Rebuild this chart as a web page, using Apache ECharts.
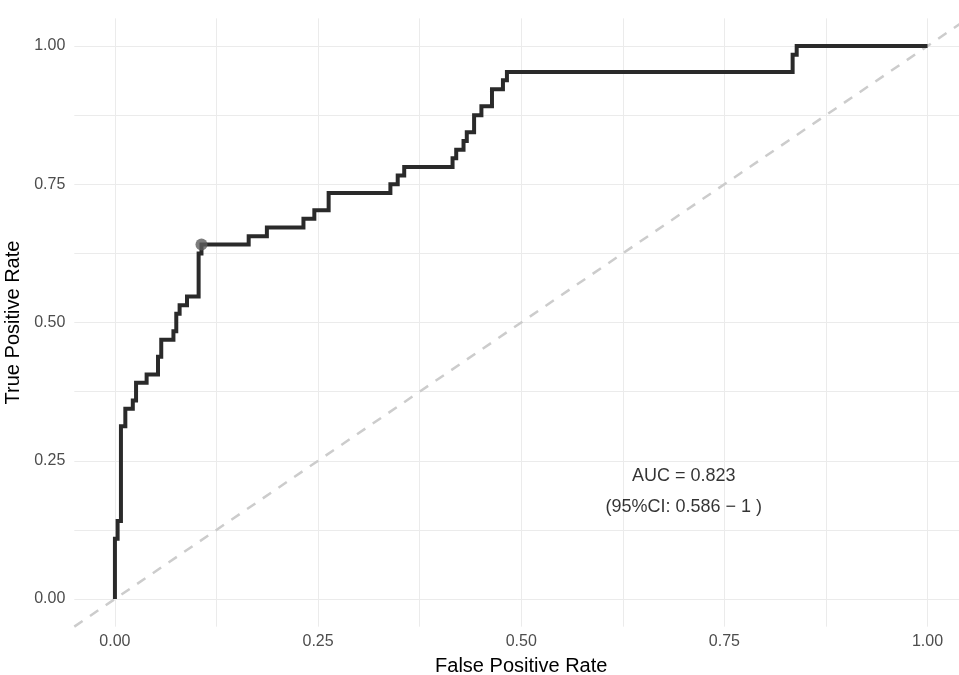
<!DOCTYPE html>
<html>
<head>
<meta charset="utf-8">
<script src="https://cdn.jsdelivr.net/npm/echarts@6/dist/echarts.min.js"></script>
<style>
html,body{margin:0;padding:0;background:#fff;}
#chart{width:959px;height:675px;}
</style>
</head>
<body>
<div id="chart"></div>
<script>
// ROC curve vertices (False Positive Rate, True Positive Rate)
var fpr = [0, 0, 0.0033, 0.0074, 0.0128, 0.022, 0.026, 0.039, 0.053, 0.057,
           0.072, 0.0755, 0.0796, 0.0887, 0.103, 0.1065,
           0.1646, 0.187, 0.232, 0.2454, 0.263,
           0.339, 0.348, 0.356,
           0.4155, 0.420, 0.429, 0.433, 0.442, 0.451, 0.464, 0.4775, 0.4824,
           0.834, 0.839, 1.0];
var tpr = [0, 0.109, 0.141, 0.3125, 0.344, 0.359, 0.391, 0.406, 0.438, 0.469,
           0.484, 0.516, 0.531, 0.547, 0.625, 0.641,
           0.656, 0.672, 0.6875, 0.703, 0.734,
           0.75, 0.766, 0.781,
           0.797, 0.8125, 0.828, 0.844, 0.875, 0.891, 0.922, 0.938, 0.953,
           0.984, 1.0, 1.0];
var bestPoint = [0.1065, 0.641];
var refLine = [[-0.05, -0.05], [1.05, 1.05]];
var tickLabels = [0, 0.25, 0.5, 0.75, 1];
var gridBreaks = [0, 0.125, 0.25, 0.375, 0.5, 0.625, 0.75, 0.875, 1];
var aucText = ['AUC = 0.823', '(95%CI: 0.586 \u2212 1 )'];
var aucPos = [0.7, 0.195];

var rocData = fpr.map(function (x, i) { return [x, tpr[i]]; });
var FONT = '"Liberation Sans", Arial, Helvetica, sans-serif';

function axisCfg(name, isX) {
  return {
    type: 'value',
    min: -0.05,
    max: 1.05,
    name: name,
    nameLocation: 'middle',
    nameGap: isX ? 30 : 46,
    nameTextStyle: { color: '#000', fontSize: 20, fontFamily: FONT },
    axisLine: { show: false },
    axisTick: { show: false, customValues: gridBreaks },
    axisLabel: {
      customValues: tickLabels,
      color: '#4d4d4d',
      fontSize: 16,
      fontFamily: FONT,
      margin: isX ? 7 : 9,
      formatter: function (v) { return v.toFixed(2); }
    },
    splitLine: { show: true, lineStyle: { color: '#ebebeb', width: 1 } }
  };
}

var chart = echarts.init(document.getElementById('chart'), null, { renderer: 'canvas' });
chart.setOption({
  backgroundColor: '#ffffff',
  animation: false,
  grid: { left: 74.3, width: 893.85, top: 18.35, height: 608.3, containLabel: false, outerBoundsMode: 'none' },
  xAxis: axisCfg('False Positive Rate', true),
  yAxis: axisCfg('True Positive Rate', false),
  series: [
    {
      type: 'line',
      data: refLine,
      symbol: 'none',
      lineStyle: { color: '#cccccc', width: 2.5, type: [10, 9] },
      z: 2,
      silent: true
    },
    {
      type: 'line',
      data: rocData,
      step: 'end',
      symbol: 'none',
      lineStyle: { color: '#2a2a2a', width: 4, join: 'miter', cap: 'butt' },
      z: 3,
      silent: true
    },
    {
      type: 'scatter',
      data: [bestPoint],
      symbol: 'circle',
      symbolSize: 12,
      itemStyle: { color: '#5c5c5c' },
      z: 4,
      silent: true
    },
    {
      type: 'scatter',
      data: [aucPos],
      symbolSize: 0,
      silent: true,
      label: {
        show: true,
        position: 'inside',
        formatter: aucText.join('\n'),
        color: '#000',
        fontSize: 18,
        fontFamily: FONT,
        lineHeight: 31,
        align: 'center',
        verticalAlign: 'middle'
      },
      z: 5
    }
  ]
});
</script>
</body>
</html>
